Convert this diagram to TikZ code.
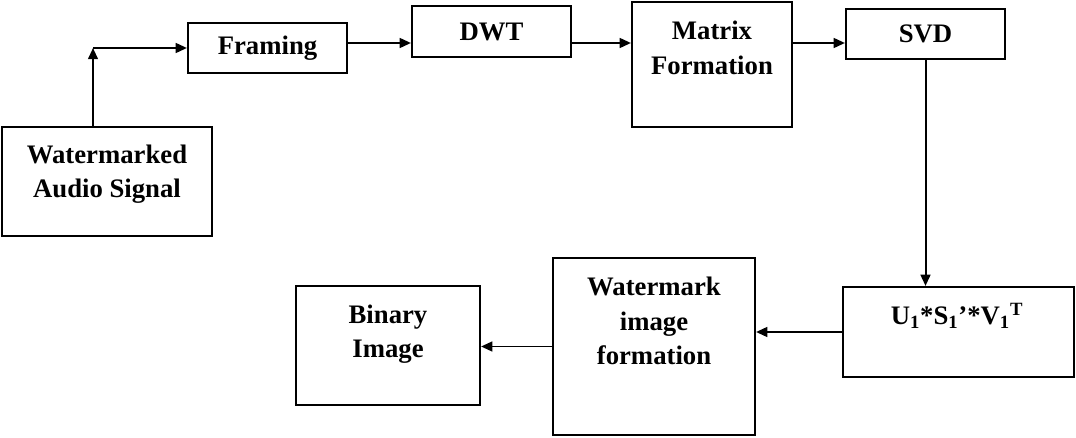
\documentclass[tikz,border=0pt]{standalone}
\usepackage{fontspec}
\setmainfont{Liberation Serif}
\usetikzlibrary{arrows.meta}
\tikzstyle{blockStyle}=[shape = rectangle, draw, line width = 1.5pt, inner sep = 0pt, font = \fontsize{19}{24.5}\selectfont\bfseries, align = center]
\tikzstyle{textStyle}=[inner sep = 0pt, font = \fontsize{19}{24.5}\selectfont\bfseries, align = center]
\tikzstyle{arrowStyle}=[line width = 1.4pt, -{Triangle[length=8pt, width=7pt]}]

\begin{document}
\begin{tikzpicture}[x = 0.025cm, y = -0.025cm]
\useasboundingbox (0,0) rectangle (1076,438);
\node[blockStyle, minimum width = 5.25cm, minimum height = 2.725cm] (wa) at (107,181.5) {};
\node[textStyle] (waText) at (107,174) {Watermarked\\Audio Signal};
\node[blockStyle, minimum width = 3.975cm, minimum height = 1.25cm] (fr) at (267.5,48) {Framing};
\node[blockStyle, minimum width = 3.975cm, minimum height = 1.275cm] (dwt) at (491.5,31.5) {DWT};
\node[blockStyle, minimum width = 4cm, minimum height = 3.125cm] (mf) at (712,64.5) {};
\node[textStyle] (mfText) at (712,48) {Matrix\\Formation};
\node[blockStyle, minimum width = 3.975cm, minimum height = 1.25cm] (svd) at (925.5,34) {SVD};
\node[blockStyle, minimum width = 5.775cm, minimum height = 2.25cm] (usv) at (958.5,332) {};
\node[textStyle] (usvText) at (957,316) {U\textsubscript{1}*S\textsubscript{1}'*V\textsubscript{1}\textsuperscript{T}};
\node[blockStyle, minimum width = 5.05cm, minimum height = 4.425cm] (wif) at (654,346.5) {};
\node[textStyle] (wifText) at (654,321) {Watermark\\image\\formation};
\node[blockStyle, minimum width = 4.6cm, minimum height = 2.975cm] (bi) at (388,345.5) {};
\node[textStyle] (biText) at (388,334) {Binary\\Image};
\coordinate (bend) at (93,48);
\coordinate (topRow) at (0,43);
\draw[arrowStyle] (bend |- wa.north) -- (bend);
\draw[arrowStyle] (bend) -- (fr.west);
\draw[arrowStyle] (fr.east |- topRow) -- (dwt.west |- topRow);
\draw[arrowStyle] (dwt.east |- topRow) -- (mf.west |- topRow);
\draw[arrowStyle] (mf.east |- topRow) -- (svd.west |- topRow);
\draw[arrowStyle] (svd.south) -- (svd.south |- usv.north);
\draw[arrowStyle] (usv.west) -- (usv.west -| wif.east);
\draw[arrowStyle] (wif.west) -- (wif.west -| bi.east);
\end{tikzpicture}
\end{document}
